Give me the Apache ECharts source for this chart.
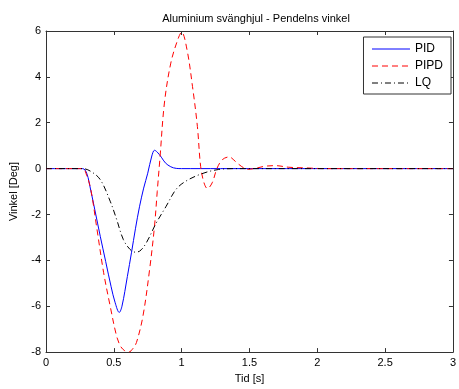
<!DOCTYPE html>
<html><head><meta charset="utf-8">
<script src="https://cdn.jsdelivr.net/npm/echarts@6/dist/echarts.min.js"></script>
<style>html,body{margin:0;padding:0;background:#fff}#c{width:459px;height:389px}</style>
</head><body><div id="c"></div>
<script>
const pidT = [0, 0.27, 0.30, 0.33, 0.36, 0.40, 0.44, 0.48, 0.51, 0.54, 0.56, 0.60, 0.63, 0.66, 0.69, 0.72, 0.75, 0.78, 0.80, 0.82, 0.85, 0.88, 0.92, 0.96, 1.0, 3.0];
const pidV = [0, 0, -0.2, -0.95, -1.8, -2.95, -4.05, -5.15, -5.85, -6.27, -6.0, -4.7, -3.67, -2.6, -1.64, -0.85, -0.2, 0.55, 0.80, 0.72, 0.5, 0.25, 0.08, 0.01, 0, 0];
const pipdT = [0, 0.27, 0.30, 0.33, 0.376, 0.425, 0.473, 0.52, 0.55, 0.58, 0.61, 0.64, 0.667, 0.715, 0.764, 0.80, 0.82, 0.84, 0.873, 0.92, 0.97, 1.0, 1.04, 1.08, 1.116, 1.14, 1.165, 1.19, 1.225, 1.26, 1.30, 1.35, 1.395, 1.44, 1.49, 1.55, 1.61, 1.69, 1.79, 1.92, 2.05, 3.0];
const pipdV = [0, 0, -0.3, -0.9, -2.65, -4.54, -5.99, -7.29, -7.75, -7.94, -8.0, -7.85, -7.58, -6.42, -4.39, -2.5, -1.0, 0.45, 2.86, 4.6, 5.6, 5.95, 5.17, 3.58, 1.84, 0.1, -0.62, -0.87, -0.62, 0, 0.39, 0.51, 0.32, 0.1, -0.03, 0.02, 0.1, 0.13, 0.06, 0.03, 0, 0];
const lqT = [0, 0.27, 0.33, 0.40, 0.473, 0.52, 0.57, 0.619, 0.655, 0.69, 0.74, 0.81, 0.886, 0.958, 1.03, 1.15, 1.27, 1.40, 3.0];
const lqV = [0, 0, -0.12, -0.48, -1.42, -2.2, -3.09, -3.52, -3.64, -3.6, -3.23, -2.4, -1.64, -0.91, -0.55, -0.22, -0.04, 0, 0];
const names = ['PID', 'PIPD', 'LQ'];
const title = 'Aluminium svänghjul - Pendelns vinkel';
const xName = 'Tid [s]';
const yName = 'Vinkel [Deg]';

const zip = (t, v) => t.map((x, i) => [x, v[i]]);
const font = 'Liberation Sans, Arial, sans-serif';
const axisCol = '#333';
const chart = echarts.init(document.getElementById('c'), null, {renderer: 'canvas'});
const xBase = {type: 'value', min: 0, max: 3, interval: 0.5,
  axisLine: {onZero: false, lineStyle: {color: axisCol, width: 1}}, splitLine: {show: false},
  axisTick: {inside: true, length: 4, lineStyle: {color: axisCol}}};
const yBase = {type: 'value', min: -8, max: 6, interval: 2,
  axisLine: {onZero: false, lineStyle: {color: axisCol, width: 1}}, splitLine: {show: false},
  axisTick: {inside: true, length: 4, lineStyle: {color: axisCol}}};
chart.setOption({
  backgroundColor: '#fff',
  animation: false,
  title: {text: title, left: 251, textAlign: 'center', top: 8,
    textStyle: {fontFamily: font, fontSize: 11, fontWeight: 'normal', color: '#000'}},
  grid: {left: 45, right: 1, top: 31, bottom: 36},
  legend: {data: names, orient: 'vertical', right: 8, top: 37, itemWidth: 38, itemHeight: 10, itemGap: 5,
    padding: [6, 8, 5, 8], borderColor: '#333', borderWidth: 1, backgroundColor: '#fff',
    itemStyle: {opacity: 0}, lineStyle: {width: 1},
    textStyle: {fontFamily: font, fontSize: 12, color: '#000'}},
  xAxis: [
    Object.assign({}, xBase, {position: 'bottom', name: xName, nameLocation: 'middle', nameGap: 20,
      nameTextStyle: {fontFamily: font, fontSize: 11, color: '#000'},
      axisLabel: {fontFamily: font, fontSize: 11, color: '#000', margin: 5,
        formatter: v => String(v)}}),
    Object.assign({}, xBase, {position: 'top', axisLabel: {show: false}})
  ],
  yAxis: [
    Object.assign({}, yBase, {position: 'left', name: yName, nameLocation: 'middle', nameGap: 27,
      nameTextStyle: {fontFamily: font, fontSize: 11, color: '#000'},
      axisLabel: {fontFamily: font, fontSize: 11, color: '#000', margin: 5}}),
    Object.assign({}, yBase, {position: 'right', axisLabel: {show: false}})
  ],
  series: [
    {name: names[0], type: 'line', data: zip(pidT, pidV), showSymbol: false, symbol: 'none', smooth: 0.35,
      lineStyle: {color: '#0000ff', width: 1, type: 'solid'}, itemStyle: {color: '#0000ff'}},
    {name: names[1], type: 'line', data: zip(pipdT, pipdV), showSymbol: false, symbol: 'none', smooth: 0.35,
      lineStyle: {color: '#ff0000', width: 1, type: [6, 4]}, itemStyle: {color: '#ff0000'}},
    {name: names[2], type: 'line', data: zip(lqT, lqV), showSymbol: false, symbol: 'none', smooth: 0.35,
      lineStyle: {color: '#000000', width: 1, type: [6, 3, 1, 3]}, itemStyle: {color: '#000000'}}
  ]
});
</script></body></html>
